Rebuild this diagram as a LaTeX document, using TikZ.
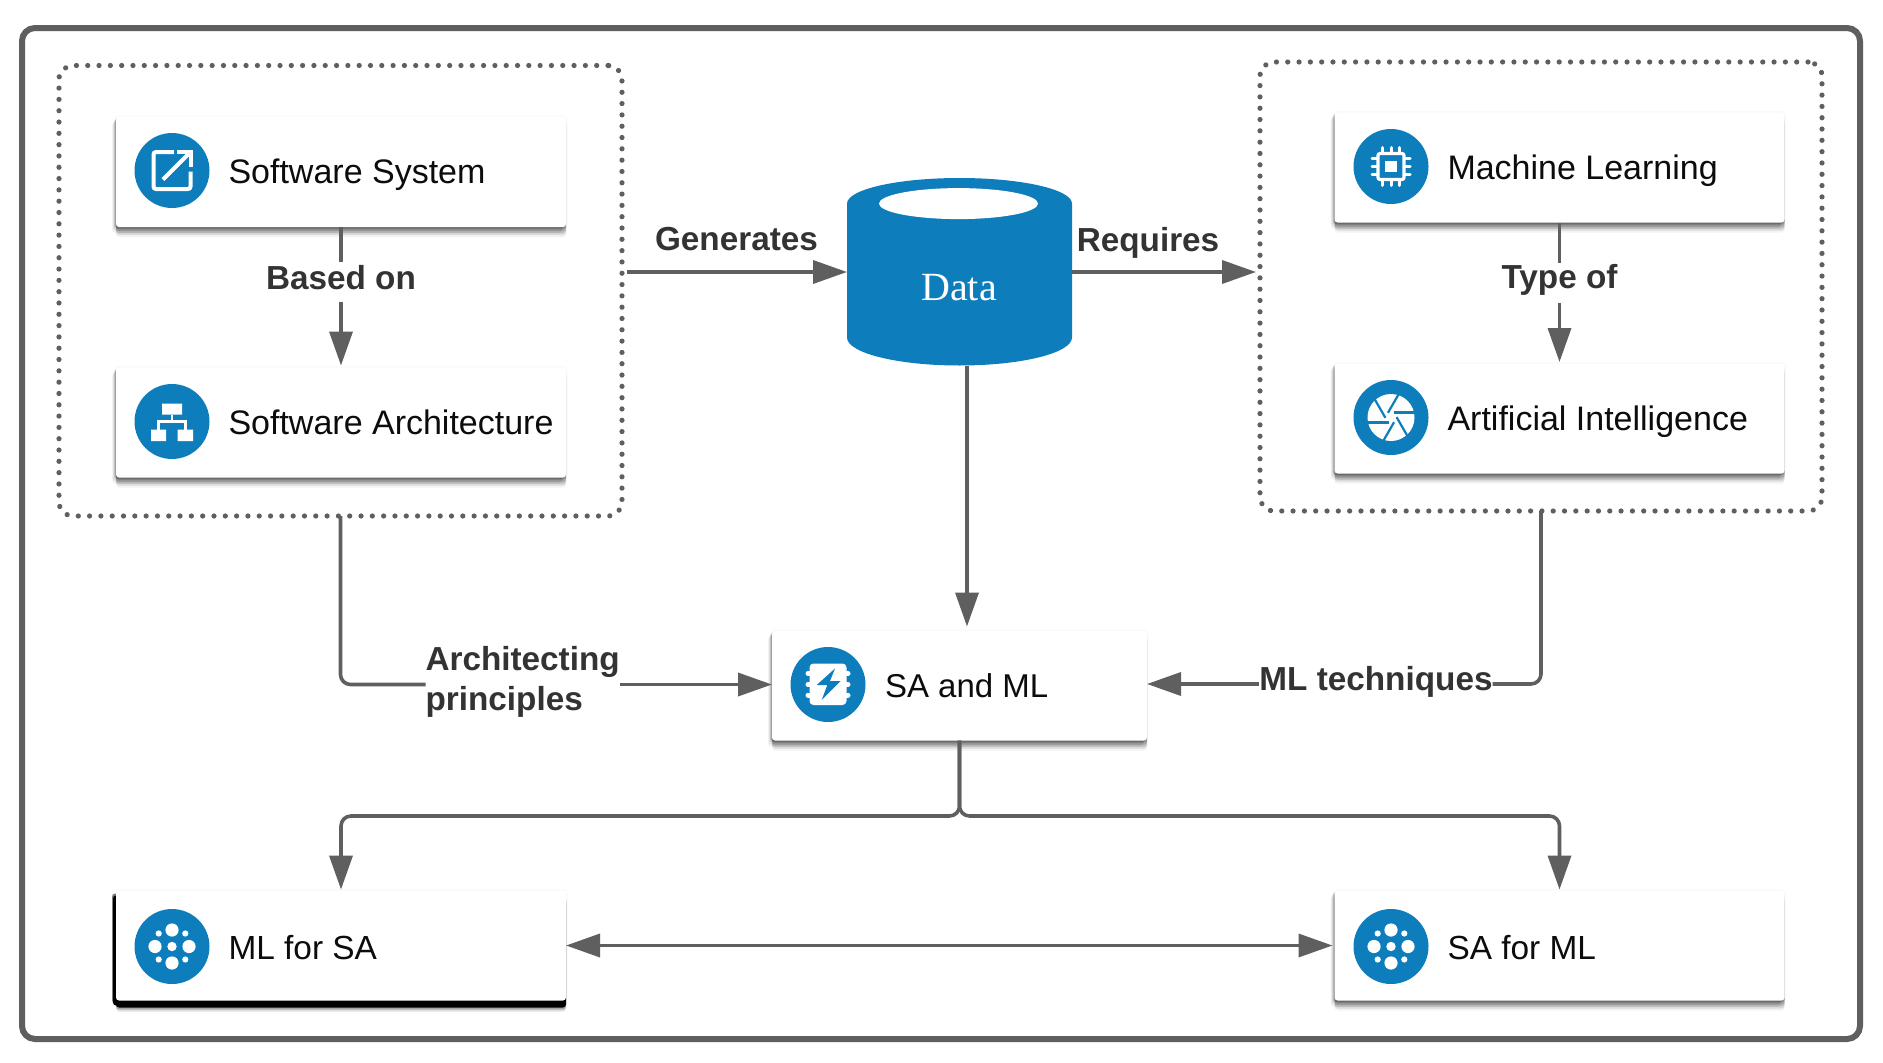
\documentclass[tikz,border=0pt]{standalone}
\usepackage{fontspec}
\setmainfont{Liberation Sans}
\newfontfamily\datafont{Liberation Serif}
\usetikzlibrary{arrows.meta,calc}
\definecolor{iconblue}{HTML}{0E7DBC}
\definecolor{linegrey}{HTML}{5F5F5F}
\definecolor{labelgrey}{HTML}{333333}
\definecolor{cardtext}{HTML}{0C0C0C}
\tikzset{
  framebox/.style={rectangle,draw=linegrey,line width=6pt,rounded corners=13pt,inner sep=0pt,outer sep=0pt,fill=white},
  groupbox/.style={rectangle,draw=linegrey,line width=5.2pt,line cap=round,dash pattern=on 0.01pt off 11.3pt,rounded corners=14pt,inner sep=0pt,outer sep=0pt},
  cardhalo/.style={preaction={draw=black,opacity=.018,line width=3pt}},
  cardshade/.style={
    preaction={fill=#1,opacity=.17,transform canvas={yshift=-2pt}},
    preaction={fill=#1,opacity=.17,transform canvas={yshift=-4pt}},
    preaction={fill=#1,opacity=.17,transform canvas={yshift=-6pt}},
    preaction={fill=#1,opacity=.12,transform canvas={yshift=-8pt}},
    preaction={fill=#1,opacity=.06,transform canvas={yshift=-10pt}},
    preaction={fill=#1,opacity=.22,transform canvas={xshift=-1pt,yshift=-1pt}},
    preaction={fill=#1,opacity=.16,transform canvas={xshift=-2pt,yshift=-2pt}},
    preaction={fill=#1,opacity=.10,transform canvas={xshift=-3pt,yshift=-4pt}},
    preaction={fill=#1,opacity=.06,transform canvas={xshift=-4pt,yshift=-6pt}}},
  card/.style={rectangle,rounded corners=3pt,fill=white,inner sep=0pt,outer sep=0pt,minimum width=450pt,minimum height=110pt,cardhalo,cardshade=black!80},
  blackcard/.style={rectangle,rounded corners=3pt,fill=white,inner sep=0pt,outer sep=0pt,minimum width=450pt,minimum height=110pt,cardhalo,
    preaction={fill=black,opacity=.12,transform canvas={yshift=-11pt}},
    preaction={fill=black,opacity=.25,transform canvas={yshift=-9pt}},
    preaction={fill=black,transform canvas={yshift=-7pt}},
    preaction={fill=black,opacity=.5,transform canvas={xshift=-4pt,yshift=-3pt}},
    preaction={fill=black,transform canvas={xshift=-3pt,yshift=-5pt}}},
  cardlabel/.style={anchor=base west,inner sep=0pt,outer sep=0pt,text=cardtext,font=\fontsize{34}{40}\selectfont},
  edgelabel/.style={inner sep=0pt,outer sep=0pt,text=labelgrey,font=\bfseries\fontsize{33.3}{40}\selectfont},
  conn/.style={draw=linegrey,line width=3.6pt},
  arrowconn/.style={conn,-{Triangle[length=34pt,width=23pt,fill=linegrey]}},
  bothconn/.style={conn,{Triangle[length=34pt,width=23pt,fill=linegrey]}-{Triangle[length=34pt,width=23pt,fill=linegrey]}},
  iconline/.style={draw=white,line cap=butt},
  disc/.style={circle,fill=iconblue,inner sep=0pt,outer sep=0pt,minimum size=75pt}
}
\newcommand{\iconExt}{%
  \draw[iconline,line width=4pt,rounded corners=2.5pt] (2,-18.5) -- (-18.5,-18.5) -- (-18.5,18.5) -- (18.5,18.5) -- (18.5,1);
  \draw[iconline,line width=4pt] (5,-18.5) -- (18.5,-18.5) -- (18.5,-4);
  \draw[iconline,line width=4pt] (-9,9) -- (17,-17);}
\newcommand{\iconTree}{%
  \fill[white] (-10,-18) rectangle (10,-7) (-21,8) rectangle (-6,19.5) (5.5,8) rectangle (21,19.5);
  \draw[iconline,line width=2.6pt] (0,-7) -- (0,0) (-13.5,8) -- (-13.5,0) -- (13.5,0) -- (13.5,8);}
\newcommand{\iconChip}{%
  \draw[iconline,line width=3.2pt,rounded corners=2pt] (-13,-13) rectangle (13,13);
  \fill[white] (-5.7,-5.7) rectangle (5.7,5.7);
  \foreach \p in {-8.3,0,8.3}{
    \draw[iconline,line width=3pt,line cap=round] (\p,-14) -- (\p,-19);
    \draw[iconline,line width=3pt,line cap=round] (\p,14) -- (\p,19);
    \draw[iconline,line width=3pt,line cap=round] (-14,\p) -- (-19,\p);
    \draw[iconline,line width=3pt,line cap=round] (14,\p) -- (19,\p);}}
\newcommand{\iconShutter}{%
  \fill[white] (0,0) circle[radius=23.5];
  \foreach \a in {0,60,...,300}{
    \draw[draw=iconblue,line width=2.2pt,rotate=\a] (2.5,-5) -- (24,-5);}}
\newcommand{\iconBolt}{%
  \fill[white,rounded corners=4pt] (-18.5,-21) rectangle (18.5,20.5);
  \foreach \p in {-11,0,10.5}{
    \draw[iconline,line width=5pt,line cap=round] (-20,\p) -- (20,\p);}
  \fill[iconblue] (7,-16) -- (-11.3,0.5) -- (-0.7,0.5) -- (-6.3,15.5) -- (12.7,-3.5) -- (2,-3.5) -- cycle;}
\newcommand{\iconDots}{%
  \fill[white] (0,0) circle[radius=4.7] (0,-16.5) circle[radius=6.6] (0,16.5) circle[radius=6.6]
    (-17,0) circle[radius=6.6] (17,0) circle[radius=6.6]
    (-13.3,-13) circle[radius=3.1] (13.3,-13) circle[radius=3.1]
    (-13.3,13) circle[radius=3.1] (13.3,13) circle[radius=3.1];}
\begin{document}
\begin{tikzpicture}[x=1pt,y=-1pt]
\useasboundingbox (0,0) rectangle (1883,1063);
\fill[white] (0,0) rectangle (1883,1063);
% frame and groups
\node[framebox,minimum width=1838pt,minimum height=1011pt] (frame) at (941,533.5) {};
\node[groupbox,minimum width=563pt,minimum height=450.5pt] (gleft) at (340.5,290.75) {};
\node[groupbox,minimum width=562pt,minimum height=449pt] (gright) at (1541,286.5) {};
% cards
\node[card] (ss) at (341,172) {};
\node[card] (sarch) at (341,422.5) {};
\node[card] (ml) at (1559.5,167.5) {};
\node[card] (ai) at (1559.5,418.5) {};
\node[card,minimum width=375pt,minimum height=109.5pt] (sam) at (959.5,685.75) {};
\node[blackcard] (mlsa) at (341,945.5) {};
\node[card] (saml) at (1559.5,945.5) {};
% data cylinder
\fill[iconblue] (847,203.6) arc[start angle=180,end angle=360,x radius=112.5,y radius=25.6]
  -- (1072,337.5) arc[start angle=0,end angle=180,x radius=112.5,y radius=28] -- cycle;
\fill[white] (958.5,203.6) ellipse[x radius=79.5,y radius=15.5];
\node[inner sep=0pt,outer sep=0pt,minimum width=225pt,minimum height=187.5pt] (data) at (959.5,272) {};
\node[inner sep=0pt,outer sep=0pt,anchor=base,text=white,font=\datafont\fontsize{40}{44}\selectfont] (datatext) at (959,300) {Data};
% icons
\node[disc] (i1) at (172,170.5) {};
\begin{scope}[shift={(i1.center)}]\iconExt\end{scope}
\node[disc] (i2) at (172,421.5) {};
\begin{scope}[shift={(i2.center)}]\iconTree\end{scope}
\node[disc] (i3) at (1391,166.5) {};
\begin{scope}[shift={(i3.center)}]\iconChip\end{scope}
\node[disc] (i4) at (1391,417.5) {};
\begin{scope}[shift={(i4.center)}]\iconShutter\end{scope}
\node[disc] (i5) at (828,684.5) {};
\begin{scope}[shift={(i5.center)}]\iconBolt\end{scope}
\node[disc] (i6) at (172,946.5) {};
\begin{scope}[shift={(i6.center)}]\iconDots\end{scope}
\node[disc] (i7) at (1391,946.5) {};
\begin{scope}[shift={(i7.center)}]\iconDots\end{scope}
% card labels
\node[cardlabel] (t1) at (228.5,183) {Software System};
\node[cardlabel] (t2) at (228.5,434) {Software Architecture};
\node[cardlabel] (t3) at (1447.5,179.5) {Machine Learning};
\node[cardlabel] (t4) at (1447.5,430.5) {Artificial Intelligence};
\node[cardlabel,font=\fontsize{33}{40}\selectfont] (t5) at (885,697) {SA and ML};
\node[cardlabel,font=\fontsize{33.4}{40}\selectfont] (t6) at (228.5,959) {ML for SA};
\node[cardlabel,font=\fontsize{33.4}{40}\selectfont] (t7) at (1447.5,959) {SA for ML};
% edge labels
\node[edgelabel,anchor=base,text height=26.6pt,text depth=13.4pt] (based) at (341,289) {Based on};
\node[edgelabel,anchor=base,text height=26pt,text depth=14pt] (typeof) at (1559.5,288.5) {Type of};
\node[edgelabel,anchor=base] (gen) at (736.5,250) {Generates};
\node[edgelabel,anchor=base] (req) at (1148,251) {Requires};
\node[edgelabel,align=left,anchor=west] (arch) at (425.5,682) {Architecting\\principles};
\node[edgelabel,anchor=base,text height=23.4pt,text depth=10pt] (mlt) at (1376,690.7) {ML techniques};
% connectors
\draw[conn] (ss.south) -- (based.north);
\draw[arrowconn,shorten >=2pt] (based.south) -- (sarch.north);
\draw[conn] (ml.south) -- (typeof.north);
\draw[arrowconn,shorten >=1.5pt] (typeof.south) -- (ai.north);
\draw[arrowconn,shorten <=5pt] (data.west -| gleft.east) -- (data.west);
\draw[arrowconn,shorten >=4pt] (data.east) -- (data.east -| gright.west);
\coordinate (dout) at (967,365.5);
\draw[arrowconn,shorten >=4.5pt] (dout) -- (dout |- sam.north);
\draw[conn,rounded corners=10pt] (gleft.south) |- (i5.center -| arch.west);
\draw[arrowconn] (i5.center -| arch.east) -- (i5.center -| sam.west);
\draw[conn,rounded corners=10pt] (gright.south) |- (mlt.east);
\draw[arrowconn] (mlt.west) -- (mlt.west -| sam.east);
\coordinate (split) at (959.5,816);
\draw[arrowconn,rounded corners=10pt,shorten >=1pt] (sam.south) -- (split) -- (split -| mlsa.north) -- (mlsa.north);
\draw[arrowconn,rounded corners=10pt,shorten >=1pt] (sam.south) -- (split) -- (split -| saml.north) -- (saml.north);
\draw[bothconn,shorten >=2pt] (mlsa.east) -- (saml.west);
\end{tikzpicture}
\end{document}
